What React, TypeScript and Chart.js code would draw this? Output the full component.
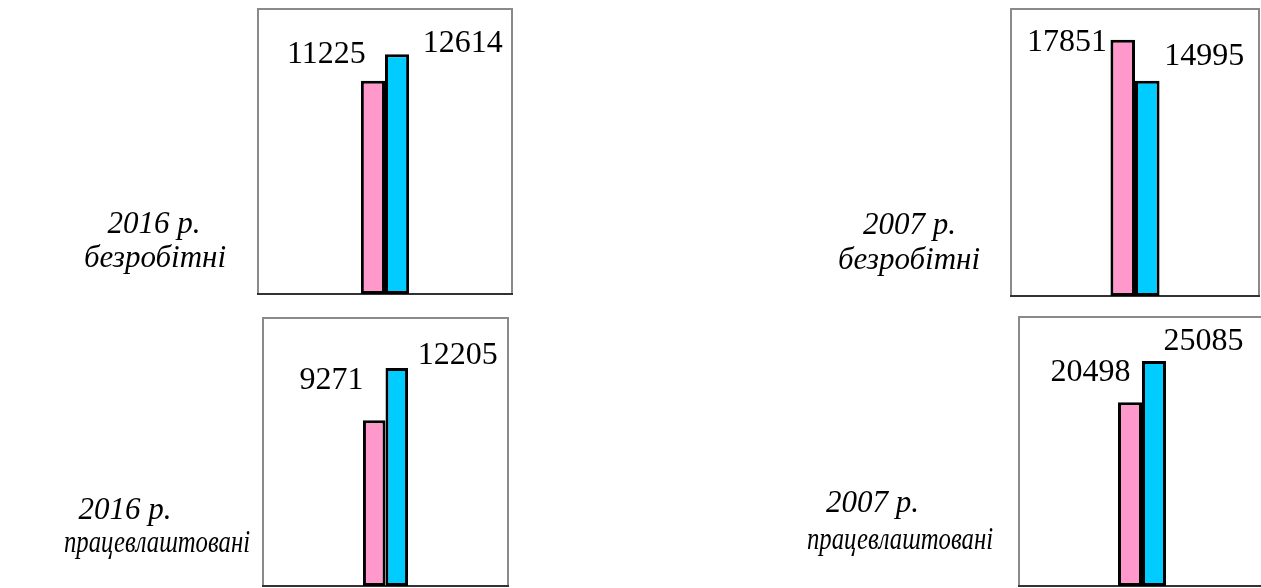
import React, { useEffect, useRef } from "react";
import { Chart, registerables } from "chart.js";

Chart.register(...registerables);

// ---- data ----
const categoryLines: string[][] = [
  ["2016 р.", "безробітні"],
  ["2007 р.", "безробітні"],
  ["2016 р.", "працевлаштовані"],
  ["2007 р.", "працевлаштовані"],
];
const categories = categoryLines.map((l) => l.join(" "));
const seriesPink = [11225, 17851, 9271, 20498];
const seriesCyan = [12614, 14995, 12205, 25085];
const axisMax = [15000, 20000, 15000, 30000];

// ---- layout / style ----
const FONT = '"Liberation Serif", "Times New Roman", serif';
const PINK = "#FF99CC";
const CYAN = "#00CCFF";

type Panel = {
  left: number; top: number; w: number; h: number;
  area: { l: number; t: number; r: number; b: number };
  cat: number;
  pinkLbl: { dx: number; dy: number };
  cyanLbl: { dx: number; dy: number };
  lines: { cx: number; y: number; maxW?: number }[];
};

const panels: Panel[] = [
  {
    left: 0, top: 0, w: 630, h: 305,
    area: { l: 258, t: 9, r: 512, b: 294 },
    cat: 0.19,
    pinkLbl: { dx: 5, dy: -18 },
    cyanLbl: { dx: 13.6, dy: -2 },
    lines: [{ cx: 154, y: 233 }, { cx: 155, y: 267 }],
  },
  {
    left: 630, top: 0, w: 631, h: 305,
    area: { l: 381, t: 9, r: 629, b: 296 },
    cat: 0.198,
    pinkLbl: { dx: -3.5, dy: 11 },
    cyanLbl: { dx: 4.6, dy: -16 },
    lines: [{ cx: 909.5, y: 234 }, { cx: 909, y: 269 }],
  },
  {
    left: 0, top: 305, w: 630, h: 283,
    area: { l: 263, t: 13, r: 508, b: 281 },
    cat: 0.184,
    pinkLbl: { dx: 0.5, dy: -31 },
    cyanLbl: { dx: 9.6, dy: -4 },
    lines: [{ cx: 125, y: 519 }, { cx: 157, y: 552, maxW: 186 }],
  },
  {
    left: 630, top: 305, w: 640, h: 283,
    area: { l: 389, t: 12, r: 635, b: 281 },
    cat: 0.195,
    pinkLbl: { dx: 12.5, dy: -21 },
    cyanLbl: { dx: -2.5, dy: -11 },
    lines: [{ cx: 872.5, y: 512 }, { cx: 900, y: 549, maxW: 186 }],
  },
];

function PanelChart({ idx }: { idx: number }) {
  const ref = useRef<HTMLCanvasElement | null>(null);
  const p = panels[idx];

  useEffect(() => {
    if (!ref.current) return;

    const boxPlugin = {
      id: "box" + idx,
      beforeDatasetsDraw(chart: any) {
        const { ctx, chartArea: a } = chart;
        ctx.save();
        ctx.strokeStyle = "#8a8a8a";
        ctx.lineWidth = 2;
        ctx.strokeRect(a.left, a.top, a.right - a.left, a.bottom - a.top);
        ctx.strokeStyle = "#333333";
        ctx.beginPath();
        ctx.moveTo(a.left - 1, a.bottom);
        ctx.lineTo(a.right + 1, a.bottom);
        ctx.stroke();
        ctx.restore();
      },
      afterDatasetsDraw(chart: any) {
        const { ctx } = chart;
        ctx.save();
        ctx.fillStyle = "#000";
        ctx.font = `32px ${FONT}`;
        ctx.textBaseline = "alphabetic";
        chart.data.datasets.forEach((ds: any, di: number) => {
          const meta = chart.getDatasetMeta(di);
          meta.data.forEach((bar: any, j: number) => {
            const half = bar.width / 2;
            const txt = String(ds.data[j]);
            if (di === 0) {
              ctx.textAlign = "right";
              ctx.fillText(txt, bar.x - half + p.pinkLbl.dx, bar.y + p.pinkLbl.dy);
            } else {
              ctx.textAlign = "left";
              ctx.fillText(txt, bar.x + half + p.cyanLbl.dx, bar.y + p.cyanLbl.dy);
            }
          });
        });
        // category caption
        ctx.font = `italic 31px ${FONT}`;
        ctx.textAlign = "center";
        categoryLines[idx].forEach((line, k) => {
          const pos = p.lines[k];
          if (pos.maxW) ctx.fillText(line, pos.cx - p.left, pos.y - p.top, pos.maxW);
          else ctx.fillText(line, pos.cx - p.left, pos.y - p.top);
        });
        ctx.restore();
      },
    };

    const chart = new Chart(ref.current, {
      type: "bar",
      data: {
        labels: [categories[idx]],
        datasets: [
          {
            label: "Ряд 1",
            data: [seriesPink[idx]],
            backgroundColor: PINK,
            borderColor: "#000",
            borderWidth: 3,
            borderSkipped: false,
            categoryPercentage: p.cat,
            barPercentage: 1,
          },
          {
            label: "Ряд 2",
            data: [seriesCyan[idx]],
            backgroundColor: CYAN,
            borderColor: "#000",
            borderWidth: 3,
            borderSkipped: false,
            categoryPercentage: p.cat,
            barPercentage: 1,
          },
        ],
      },
      options: {
        responsive: false,
        animation: false,
        devicePixelRatio: 1,
        layout: {
          padding: {
            left: p.area.l,
            top: p.area.t,
            right: p.w - p.area.r,
            bottom: p.h - p.area.b,
          },
        },
        plugins: {
          legend: { display: false },
          tooltip: { enabled: false },
          title: { display: false },
        },
        scales: {
          x: { display: false },
          y: { display: false, min: 0, max: axisMax[idx] },
        },
      },
      plugins: [boxPlugin],
    } as any);
    return () => chart.destroy();
  }, [idx]);

  return (
    <canvas
      ref={ref}
      width={p.w}
      height={p.h}
      style={{ position: "absolute", left: p.left, top: p.top, width: p.w, height: p.h, display: "block" }}
    />
  );
}

export default function App() {
  return (
    <div
      style={{
        position: "absolute",
        left: 0,
        top: 0,
        width: 1261,
        height: 588,
        overflow: "hidden",
        background: "#fff",
      }}
    >
      {panels.map((_, i) => (
        <PanelChart key={i} idx={i} />
      ))}
    </div>
  );
}
